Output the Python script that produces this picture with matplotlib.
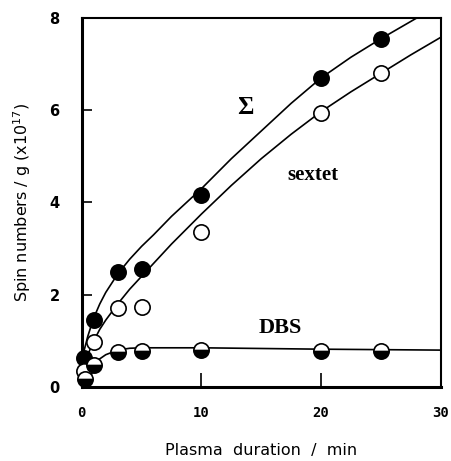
import matplotlib
matplotlib.use("Agg")
import matplotlib.pyplot as plt

# --- data ---
t_sum = [0.2, 1, 3, 5, 10, 20, 25]
spin_sum = [0.63, 1.45, 2.5, 2.55, 4.17, 6.7, 7.54]

t_sextet = [0.2, 1, 3, 5, 10, 20, 25]
spin_sextet = [0.35, 0.98, 1.72, 1.74, 3.35, 5.95, 6.8]

t_dbs = [0.25, 1, 3, 5, 10, 20, 25]
spin_dbs = [0.18, 0.48, 0.76, 0.79, 0.8, 0.78, 0.78]

# fitted curves (traced)
fit_sum_t = [0, 0.5, 1, 1.5, 2, 3, 4, 5, 6, 7.5, 10, 12.5, 15, 17.5, 20, 22.5, 25, 28]
fit_sum_y = [0.6, 1.1, 1.5, 1.8, 2.05, 2.45, 2.77, 3.05, 3.3, 3.7, 4.3, 4.95, 5.55, 6.15, 6.7, 7.15, 7.55, 8.0]

fit_sextet_t = [0, 0.5, 1, 1.5, 2, 3, 4, 5, 6, 7.5, 10, 12.5, 15, 17.5, 20, 22.5, 25, 27.5, 30]
fit_sextet_y = [0.3, 0.7, 1.0, 1.25, 1.45, 1.8, 2.12, 2.4, 2.68, 3.1, 3.75, 4.37, 4.95, 5.48, 5.97, 6.4, 6.8, 7.2, 7.58]

fit_dbs_t = [0, 0.5, 1, 1.5, 2, 3, 4, 5, 10, 20, 30]
fit_dbs_y = [0.15, 0.35, 0.5, 0.61, 0.7, 0.8, 0.84, 0.85, 0.85, 0.82, 0.8]

x_ticks = [0, 10, 20, 30]
y_ticks = [0, 2, 4, 6, 8]

fig = plt.figure(figsize=(4.52, 4.61), dpi=100)
ax = fig.add_axes([0.181, 0.1605, 0.794, 0.8005])

lw = 1.2
ax.plot(fit_sum_t, fit_sum_y, color='black', lw=lw)
ax.plot(fit_sextet_t, fit_sextet_y, color='black', lw=lw)
ax.plot(fit_dbs_t, fit_dbs_y, color='black', lw=lw)

ms = 11
ax.plot(t_sum, spin_sum, 'o', ms=ms, mfc='black', mec='black', mew=1.2,
        clip_on=False, zorder=5)
ax.plot(t_sextet, spin_sextet, 'o', ms=ms, mfc='white', mec='black', mew=1.2,
        clip_on=False, zorder=5)
ax.plot(t_dbs, spin_dbs, 'o', ms=ms, mfc='black', mfcalt='white', fillstyle='bottom',
        mec='black', mew=1.2, clip_on=False, zorder=5)

ax.set_xlim(0, 30)
ax.set_ylim(0, 8)
ax.set_xticks(x_ticks)
ax.set_yticks(y_ticks)
ax.set_xticklabels([str(v) for v in x_ticks], fontweight='bold', fontsize=10,
                   family='DejaVu Sans Mono')
ax.set_yticklabels([str(v) for v in y_ticks], fontweight='bold', fontsize=10.5)
ax.tick_params(axis='x', direction='in', length=10, width=1.2, pad=14)
ax.tick_params(axis='y', direction='in', length=7, width=1.2, pad=16)

for side in ['left', 'bottom']:
    ax.spines[side].set_linewidth(2.2)
for side in ['top', 'right']:
    ax.spines[side].set_linewidth(1.5)

ax.set_xlabel('Plasma  duration  /  min', fontsize=11.5, labelpad=16)
ax.set_ylabel('Spin numbers / g (x10$^{17}$)', fontsize=11.5, labelpad=12)

serif = 'Liberation Serif'
ax.text(13.7, 6.05, '\u03a3', fontsize=18, fontweight='bold', family=serif,
        ha='center', va='center')
ax.text(19.3, 4.6, 'sextet', fontsize=15, fontweight='bold', family=serif,
        ha='center', va='center')
ax.text(16.6, 1.28, 'DBS', fontsize=16, fontweight='bold', family=serif,
        ha='center', va='center')

fig.savefig('out.png', dpi=100)
